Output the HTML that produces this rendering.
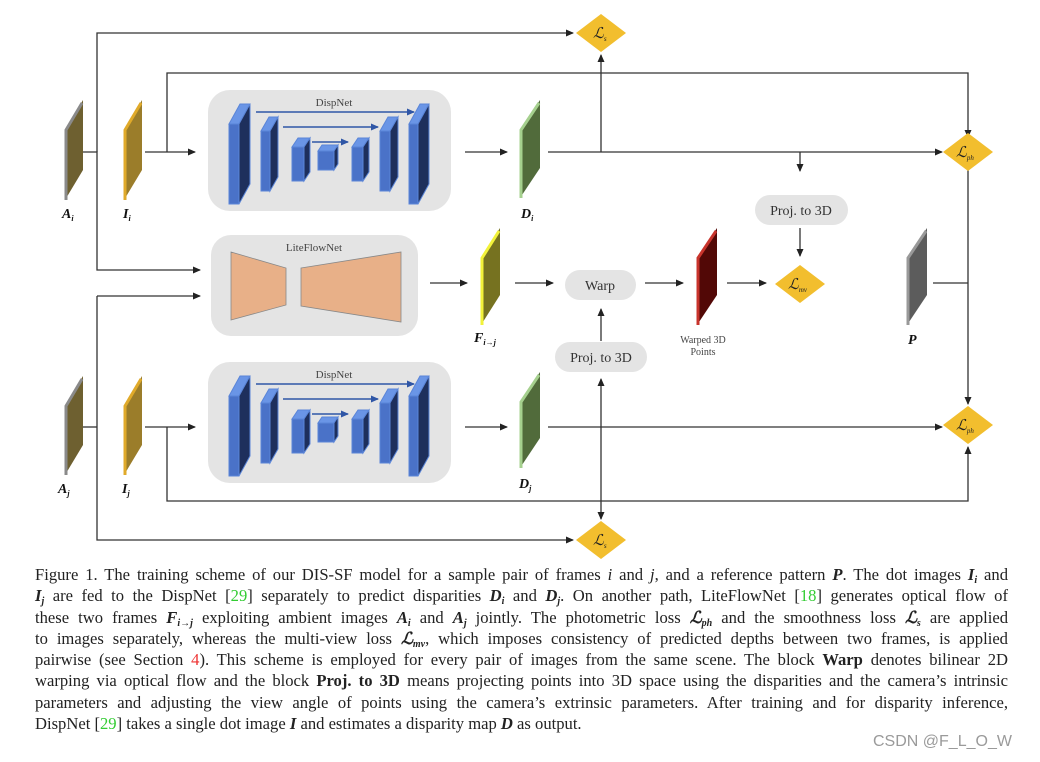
<!DOCTYPE html>
<html><head><meta charset="utf-8"><style>
body{margin:0;width:1040px;height:762px;background:#fff;overflow:hidden;position:relative;font-family:"Liberation Serif",serif;}
svg{position:absolute;left:0;top:0}
.cap{position:absolute;left:35px;width:973px;font-size:16.6px;line-height:21.3px;color:#222;top:564px}
.cap div{text-align:justify;text-align-last:justify;white-space:nowrap;height:21.3px;overflow:visible}
.cap div.last{text-align-last:left}
.cap sub{font-size:10px;line-height:0;vertical-align:baseline;position:relative;top:3px}
.g{color:#3c3}.r{color:#e33}
.m{font-weight:bold;font-style:italic}
.wm{position:absolute;left:873px;top:733px;font-family:"Liberation Sans",sans-serif;font-size:16px;color:#9a9a9a}
</style></head><body>
<svg width="1040" height="560" viewBox="0 0 1040 560" font-family="Liberation Serif, serif">
<defs>
<marker id="a" markerWidth="8" markerHeight="8" refX="7" refY="4" orient="auto" markerUnits="userSpaceOnUse"><path d="M0,0.5 L8,4 L0,7.5 z" fill="#222"/></marker>
<marker id="b" markerWidth="8" markerHeight="8" refX="7" refY="4" orient="auto" markerUnits="userSpaceOnUse"><path d="M0,0.5 L8,4 L0,7.5 z" fill="#2f56a6"/></marker>
</defs>
<g stroke="#333" stroke-width="1.3" fill="none">
<path d="M83,152 H97 V270 H200" marker-end="url(#a)"/>
<path d="M97,152 V33 H573" marker-end="url(#a)"/>
<path d="M145,152 H195" marker-end="url(#a)"/>
<path d="M167,152 V73 H968 V137" marker-end="url(#a)"/>
<path d="M465,152 H507" marker-end="url(#a)"/>
<path d="M548,152 H942" marker-end="url(#a)"/>
<path d="M601,152 V55" marker-end="url(#a)"/>
<path d="M800,152 V171" marker-end="url(#a)"/>
<path d="M800,228 V256" marker-end="url(#a)"/>
<path d="M430,283 H467" marker-end="url(#a)"/>
<path d="M515,283 H553" marker-end="url(#a)"/>
<path d="M645,283 H683" marker-end="url(#a)"/>
<path d="M727,283 H766" marker-end="url(#a)"/>
<path d="M601,341 V309" marker-end="url(#a)"/>
<path d="M933,283 H968"/>
<path d="M968,283 V156" marker-end="url(#a)"/>
<path d="M968,283 V404" marker-end="url(#a)"/>
<path d="M97,296 H200" marker-end="url(#a)"/>
<path d="M83,427 H97"/>
<path d="M97,296 V540 H573" marker-end="url(#a)"/>
<path d="M145,427 H195" marker-end="url(#a)"/>
<path d="M167,427 V501 H968 V447" marker-end="url(#a)"/>
<path d="M465,427 H507" marker-end="url(#a)"/>
<path d="M548,427 H942" marker-end="url(#a)"/>
<path d="M601,427 V379" marker-end="url(#a)"/>
<path d="M601,427 V519" marker-end="url(#a)"/>
</g>
<rect x="208" y="90" width="243" height="121" rx="22" fill="#e4e4e4"/>
<rect x="208" y="362" width="243" height="121" rx="22" fill="#e4e4e4"/>
<rect x="211" y="235" width="207" height="101" rx="20" fill="#e4e4e4"/>
<text x="334" y="106" font-size="11" text-anchor="middle" fill="#444">DispNet</text>
<text x="334" y="378" font-size="11" text-anchor="middle" fill="#444">DispNet</text>
<text x="314" y="251" font-size="11" text-anchor="middle" fill="#444">LiteFlowNet</text>
<polygon points="231,252 286,268 286,305 231,320" fill="#e8b088" stroke="#888" stroke-width="0.8"/>
<polygon points="301,268 401,252 401,322 301,306" fill="#e8b088" stroke="#888" stroke-width="0.8"/>
<g id="dn">
<g stroke="#2f56a6" stroke-width="1.6" fill="none">
<path d="M256,112 H414" marker-end="url(#b)"/>
<path d="M283,127 H378" marker-end="url(#b)"/>
<path d="M312,142 H348" marker-end="url(#b)"/>
</g>
<g stroke="#5a85d8" stroke-width="1">
<polygon points="229,124 240,104 250,104 239,124" fill="#6a95e6"/><polygon points="229,124 239,124 239,204 229,204" fill="#4a72c8"/><polygon points="239,124 250,104 250,184 239,204" fill="#1e2f5c"/>
<polygon points="261,131 269,117 278,117 270,131" fill="#6a95e6"/><polygon points="261,131 270,131 270,191 261,191" fill="#4a72c8"/><polygon points="270,131 278,117 278,177 270,191" fill="#1e2f5c"/>
<polygon points="292,147 298,138 310,138 304,147" fill="#6a95e6"/><polygon points="292,147 304,147 304,181 292,181" fill="#4a72c8"/><polygon points="304,147 310,138 310,172 304,181" fill="#1e2f5c"/>
<polygon points="318,151 322,145 338,145 334,151" fill="#6a95e6"/><polygon points="318,151 334,151 334,170 318,170" fill="#4a72c8"/><polygon points="334,151 338,145 338,164 334,170" fill="#1e2f5c"/>
<polygon points="352,147 358,138 369,138 363,147" fill="#6a95e6"/><polygon points="352,147 363,147 363,181 352,181" fill="#4a72c8"/><polygon points="363,147 369,138 369,172 363,181" fill="#1e2f5c"/>
<polygon points="380,131 388,117 398,117 390,131" fill="#6a95e6"/><polygon points="380,131 390,131 390,191 380,191" fill="#4a72c8"/><polygon points="390,131 398,117 398,177 390,191" fill="#1e2f5c"/>
<polygon points="409,124 420,104 429,104 418,124" fill="#6a95e6"/><polygon points="409,124 418,124 418,204 409,204" fill="#4a72c8"/><polygon points="418,124 429,104 429,184 418,204" fill="#1e2f5c"/>
</g>
</g>
<use href="#dn" transform="translate(0,272)"/>
<g>
<polygon points="65,130 83,100 83,170 65,200" fill="#6e6030"/><path d="M66,200 V130 L82,103" stroke="#8a8a8a" stroke-width="3" fill="none"/>
<polygon points="124,130 142,100 142,170 124,200" fill="#9b7d2a"/><path d="M125,200 V130 L141,103" stroke="#e0aa2a" stroke-width="3" fill="none"/>
<polygon points="520,130 540,100 540,168 520,198" fill="#516b3b"/><path d="M521,198 V130 L539,103" stroke="#a5d08e" stroke-width="3" fill="none"/>
<polygon points="481,258 500,228 500,295 481,325" fill="#767220"/><path d="M482,325 V258 L499,231" stroke="#f2f23a" stroke-width="3" fill="none"/>
<polygon points="697,258 717,228 717,295 697,325" fill="#520806"/><path d="M698,325 V258 L716,231" stroke="#c8342c" stroke-width="3" fill="none"/>
<polygon points="907,258 927,228 927,295 907,325" fill="#5c5c5c"/><path d="M908,325 V258 L926,231" stroke="#999" stroke-width="3" fill="none"/>
<polygon points="65,406 83,376 83,445 65,475" fill="#6e6030"/><path d="M66,475 V406 L82,379" stroke="#8a8a8a" stroke-width="3" fill="none"/>
<polygon points="124,406 142,376 142,445 124,475" fill="#9b7d2a"/><path d="M125,475 V406 L141,379" stroke="#e0aa2a" stroke-width="3" fill="none"/>
<polygon points="520,402 540,372 540,438 520,468" fill="#516b3b"/><path d="M521,468 V402 L539,375" stroke="#a5d08e" stroke-width="3" fill="none"/>
</g>
<g font-weight="bold" font-style="italic" font-size="14" fill="#111">
<text x="62" y="218">A<tspan font-size="8" dy="3">i</tspan></text>
<text x="123" y="218">I<tspan font-size="8" dy="3">i</tspan></text>
<text x="521" y="218">D<tspan font-size="8" dy="3">i</tspan></text>
<text x="474" y="342">F<tspan font-size="8" dy="3">i→j</tspan></text>
<text x="908" y="344">P</text>
<text x="58" y="493">A<tspan font-size="8" dy="3">j</tspan></text>
<text x="122" y="493">I<tspan font-size="8" dy="3">j</tspan></text>
<text x="519" y="488">D<tspan font-size="8" dy="3">j</tspan></text>
</g>
<text x="703" y="343" font-size="10" text-anchor="middle" fill="#444">Warped 3D</text>
<text x="703" y="355" font-size="10" text-anchor="middle" fill="#444">Points</text>
<rect x="755" y="195" width="93" height="30" rx="15" fill="#e4e4e4"/><text x="801" y="215" font-size="14" text-anchor="middle" fill="#333">Proj. to 3D</text>
<rect x="565" y="270" width="71" height="30" rx="15" fill="#e4e4e4"/><text x="600" y="290" font-size="14" text-anchor="middle" fill="#333">Warp</text>
<rect x="555" y="342" width="92" height="30" rx="15" fill="#e4e4e4"/><text x="601" y="362" font-size="14" text-anchor="middle" fill="#333">Proj. to 3D</text>
<g fill="#f2be2e">
<polygon points="601,14 626,33 601,52 576,33"/>
<polygon points="968,133 993,152 968,171 943,152"/>
<polygon points="800,265 825,284 800,303 775,284"/>
<polygon points="968,406 993,425 968,444 943,425"/>
<polygon points="601,521 626,540 601,559 576,540"/>
</g>
<g font-style="italic" font-size="15" fill="#222">
<text x="593" y="38">ℒ<tspan font-size="7" dy="3">s</tspan></text>
<text x="956" y="157">ℒ<tspan font-size="7" dy="3">ph</tspan></text>
<text x="788" y="289">ℒ<tspan font-size="7" dy="3">mv</tspan></text>
<text x="956" y="430">ℒ<tspan font-size="7" dy="3">ph</tspan></text>
<text x="593" y="545">ℒ<tspan font-size="7" dy="3">s</tspan></text>
</g>
</svg>
<div class="cap">
<div>Figure 1. The training scheme of our DIS-SF model for a sample pair of frames <i>i</i> and <i>j</i>, and a reference pattern <span class="m">P</span>. The dot images <span class="m">I<sub>i</sub></span> and</div>
<div><span class="m">I<sub>j</sub></span> are fed to the DispNet [<span class="g">29</span>] separately to predict disparities <span class="m">D<sub>i</sub></span> and <span class="m">D<sub>j</sub></span>. On another path, LiteFlowNet [<span class="g">18</span>] generates optical flow of</div>
<div>these two frames <span class="m">F<sub>i→j</sub></span> exploiting ambient images <span class="m">A<sub>i</sub></span> and <span class="m">A<sub>j</sub></span> jointly. The photometric loss <span class="m">ℒ<sub>ph</sub></span> and the smoothness loss <span class="m">ℒ<sub>s</sub></span> are applied</div>
<div>to images separately, whereas the multi-view loss <span class="m">ℒ<sub>mv</sub></span>, which imposes consistency of predicted depths between two frames, is applied</div>
<div>pairwise (see Section <span class="r">4</span>). This scheme is employed for every pair of images from the same scene. The block <b>Warp</b> denotes bilinear 2D</div>
<div>warping via optical flow and the block <b>Proj. to 3D</b> means projecting points into 3D space using the disparities and the camera’s intrinsic</div>
<div>parameters and adjusting the view angle of points using the camera’s extrinsic parameters. After training and for disparity inference,</div>
<div class="last">DispNet [<span class="g">29</span>] takes a single dot image <span class="m">I</span> and estimates a disparity map <span class="m">D</span> as output.</div>
</div>
<div class="wm">CSDN @F_L_O_W</div>
</body></html>
